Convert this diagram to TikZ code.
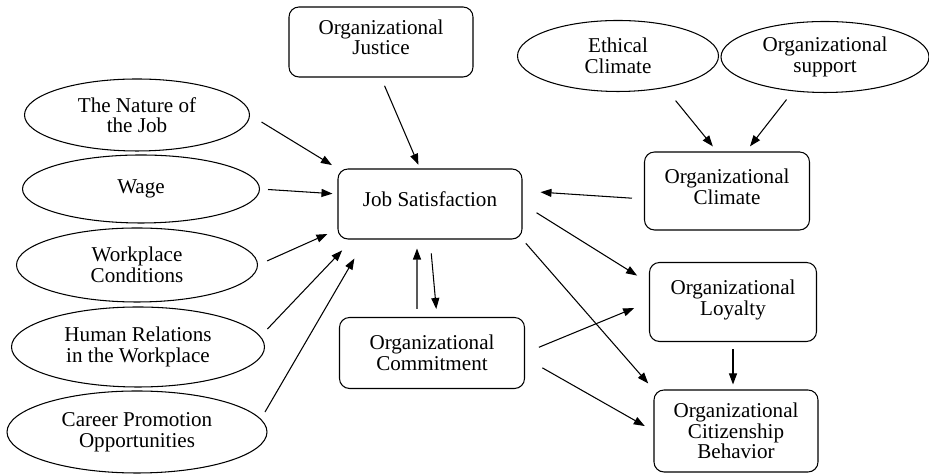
\documentclass[tikz,border=0pt]{standalone}
\usepackage{fontspec}
\setmainfont{Liberation Serif}
\usepackage{tikz}
\usetikzlibrary{positioning, arrows.meta, shapes.geometric}

\tikzset{
    factor/.style={ellipse, draw, line width=0.6pt, inner sep=1pt, align=center,
        minimum width=4.8cm, minimum height=1.5cm},
    construct/.style={draw, line width=0.6pt, rounded corners=2mm, align=center,
        minimum width=3.3cm, minimum height=1.6cm},
    link/.style={-{Triangle[length=2.2mm, width=1.6mm]}, line width=0.6pt}
}

\begin{document}
\begin{tikzpicture}[font=\rmfamily\fontsize{12}{11.7}\selectfont]
    \useasboundingbox (0,0) rectangle (18.58,9.48);

    % Job factors on the left
    \node[factor, minimum width=4.50cm, minimum height=1.44cm] (nature) at (2.74, 7.18) {The Nature of\\the Job};
    \node[factor, minimum width=4.74cm, minimum height=1.36cm] (wage) at (2.82, 5.70) {Wage};
    \node[factor, minimum width=4.82cm, minimum height=1.48cm] (workplace) at (2.74, 4.18) {Workplace\\Conditions};
    \node[factor, minimum width=5.06cm, minimum height=1.60cm] (human) at (2.76, 2.54) {Human Relations\\in the Workplace};
    \node[factor, minimum width=5.20cm, minimum height=1.64cm] (career) at (2.74, 0.84) {Career Promotion\\Opportunities};

    % Middle column
    \node[construct, minimum width=3.68cm, minimum height=1.40cm] (justice) at (7.62, 8.64) {Organizational\\Justice\\[-6pt]};
    \node[construct, minimum width=3.68cm, minimum height=1.40cm] (js) at (8.60, 5.40) {Job Satisfaction\\[-6pt]};
    \node[construct, minimum width=3.70cm, minimum height=1.42cm] (commit) at (8.64, 2.42) {Organizational\\Commitment};

    % Climate antecedents on the top right
    \node[factor, minimum width=4.02cm, minimum height=1.42cm] (ethical) at (12.36, 8.36) {Ethical\\Climate};
    \node[factor, minimum width=4.16cm, minimum height=1.42cm] (support) at (16.50, 8.34) {Organizational\\support};

    % Right column
    \node[construct, minimum width=3.30cm, minimum height=1.56cm] (climate) at (14.54, 5.66) {Organizational\\Climate\\[-7pt]};
    \node[construct, minimum width=3.34cm, minimum height=1.58cm] (loyalty) at (14.66, 3.44) {Organizational\\Loyalty\\[-7pt]};
    \node[construct, minimum width=3.28cm, minimum height=1.64cm] (ocb) at (14.72, 0.86) {Organizational\\Citizenship\\Behavior};

    % Paths into job satisfaction
    \draw[link, shorten <=1.8mm, shorten >=0.8mm] (justice.south) -- ([xshift=-2mm]js.north);
    \draw[link, shorten <=2.7mm, shorten >=1.3mm] (nature.east) -- (js.north west);
    \draw[link, shorten <=1.6mm, shorten >=1mm] (wage.east) -- ([yshift=2mm]js.west);
    \draw[link, shorten <=2mm, shorten >=2.2mm] (workplace.east) -- ([yshift=2mm]js.south west);
    \draw[link, shorten <=2mm, shorten >=3mm] (human.5) -- ([xshift=3mm]js.south west);
    \draw[link, shorten <=1.6mm, shorten >=4.4mm] (career.6) -- ([xshift=5.6mm]js.south west);
    \draw[link, shorten <=2.4mm, shorten >=3.6mm] ([yshift=-1.6mm]climate.west) -- ([yshift=2.6mm]js.east);

    % Job satisfaction and commitment
    \draw[link, shorten <=1.6mm, shorten >=1.8mm] ([xshift=-3mm]commit.north) -- ([xshift=-2.6mm]js.south);
    \draw[link, shorten <=2.8mm, shorten >=1.6mm] (js.south) -- ([xshift=1mm]commit.north);

    % Climate antecedents
    \draw[link, shorten <=3.3mm, shorten >=1.3mm] (ethical.-34) -- ([xshift=-2mm]climate.north);
    \draw[link, shorten <=2.1mm, shorten >=1.3mm] (support.227) -- ([xshift=3.8mm]climate.north);

    % Outcomes
    \draw[link, shorten <=3.3mm, shorten >=2.8mm] (js.east) -- ([yshift=3.8mm]loyalty.west);
    \draw[link, shorten <=1mm, shorten >=1.6mm] (js.south east) -- (ocb.north west);
    \draw[link, shorten <=3mm, shorten >=3.2mm] (commit.east) -- (loyalty.west);
    \draw[link, shorten <=4mm, shorten >=2mm] ([yshift=-1mm]commit.east) -- (ocb.west);
    \draw[link, shorten <=1.4mm, shorten >=1mm] (loyalty.south) -- (loyalty.south |- ocb.north);
\end{tikzpicture}
\end{document}
